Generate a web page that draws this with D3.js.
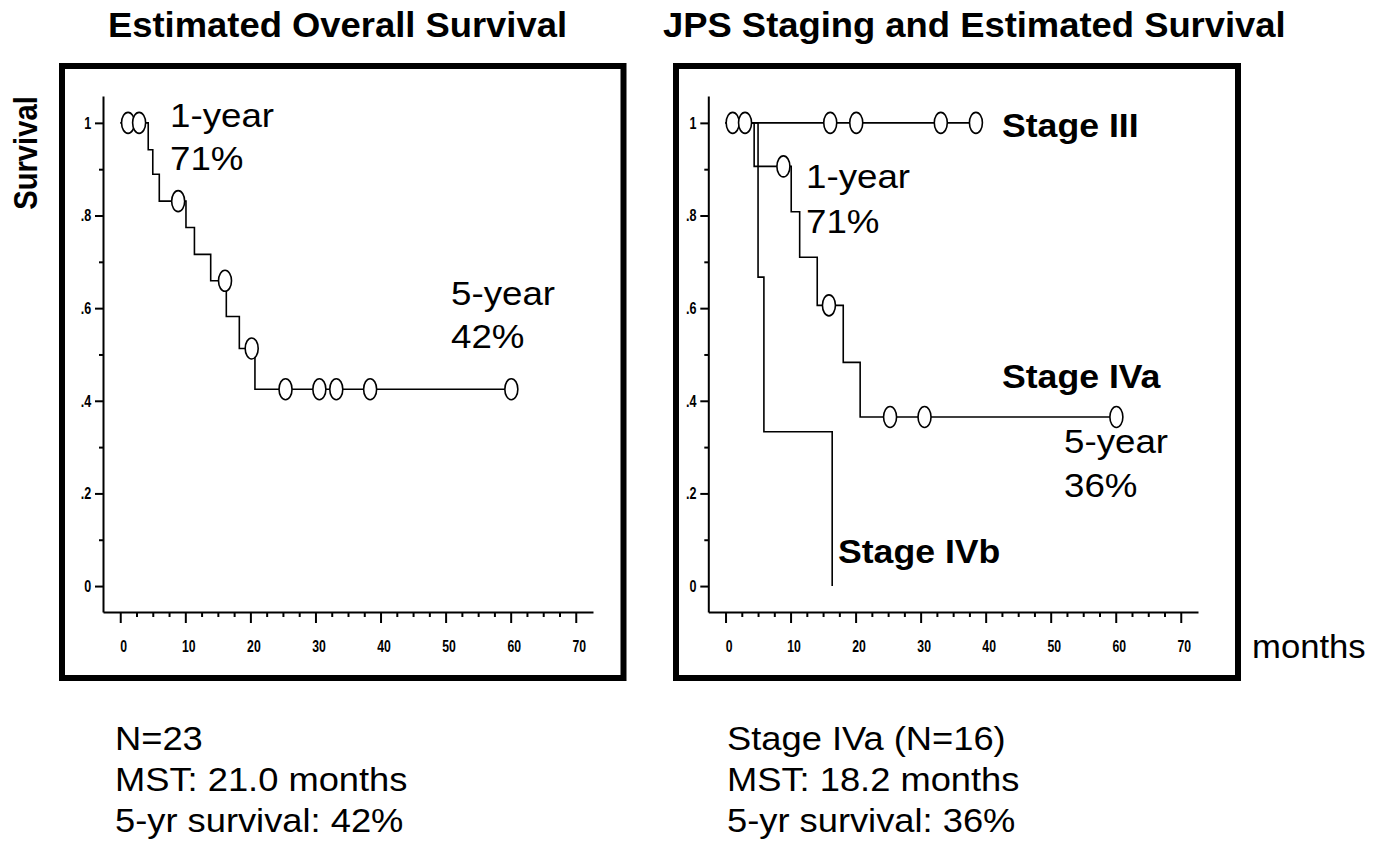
<!DOCTYPE html>
<html lang="en">
<head>
    <meta charset="UTF-8">
    <title>Estimated Survival</title>
    <script src="https://cdnjs.cloudflare.com/ajax/libs/d3/7.8.5/d3.min.js"></script>
    <style>
        body { margin: 0; padding: 0; background: #fff; }
        svg { display: block; font-family: "Liberation Sans", Arial, sans-serif; }
        .km { fill: none; stroke: #000; stroke-width: 1.6px; }
        .censor { fill: #fff; stroke: #000; stroke-width: 1.6px; }
        .axis path, .axis line { stroke: #000; stroke-width: 2px; }
        .axis text { font-size: 17px; font-weight: bold; fill: #000; font-family: "Liberation Sans", Arial, sans-serif; }
    </style>
</head>
<body>
<script>
    // ticks
    const xMajor = [0, 10, 20, 30, 40, 50, 60, 70];
    const xMinor = [2.5, 5, 7.5, 12.5, 15, 17.5, 22.5, 25, 27.5, 32.5, 35, 37.5, 42.5, 45, 47.5, 52.5, 55, 57.5, 62.5, 65, 67.5];
    const yMajor = [0, 0.2, 0.4, 0.6, 0.8, 1];
    const yMinor = [0.1, 0.3, 0.5, 0.7, 0.9];
    const yLabels = ["0", ".2", ".4", ".6", ".8", "1"];

    // overall survival (N=23): death times, survival after each death, censored times
    const overallDeaths = [4.3, 5.0, 6.0, 10.1, 11.4, 13.9, 16.3, 18.3, 20.7];
    const overallSurv = [0.942, 0.889, 0.831, 0.774, 0.716, 0.659, 0.582, 0.513, 0.425];
    const overallCensor = [1.2, 2.9, 8.9, 16.1, 20.2, 25.4, 30.6, 33.2, 38.4, 60.1];

    // JPS stages
    const stage3Deaths = [];
    const stage3Surv = [];
    const stage3Censor = [1.1, 3.0, 16.1, 20.1, 33.1, 38.5];

    const stage4aDeaths = [4.4, 10.1, 11.4, 14.1, 18.1, 20.7];
    const stage4aSurv = [0.906, 0.808, 0.71, 0.606, 0.483, 0.365];
    const stage4aCensor = [8.9, 15.9, 25.3, 30.6, 60.1];

    const stage4bDeaths = [5.0, 5.9, 16.4];
    const stage4bSurv = [0.667, 0.333, 0];
    const stage4bCensor = [];

    const width = 1386, height = 847;

    const svg = d3.select("body").append("svg")
        .attr("width", width)
        .attr("height", height);

    svg.append("rect").attr("width", width).attr("height", height).attr("fill", "#fff");

    function addText(x, y, str, size, bold, sx, anchor) {
        return svg.append("text")
            .attr("transform", `translate(${x},${y}) scale(${sx},1)`)
            .attr("font-size", size)
            .attr("font-weight", bold ? "bold" : "normal")
            .attr("text-anchor", anchor || "start")
            .text(str);
    }

    function survAt(deaths, surv, t) {
        let s = 1;
        deaths.forEach((d, i) => { if (d <= t) s = surv[i]; });
        return s;
    }

    function makePanel(frameX0, frameX1, axisX0, axisX1) {
        svg.append("rect")
            .attr("x", frameX0).attr("y", 66)
            .attr("width", frameX1 - frameX0).attr("height", 678 - 66)
            .attr("fill", "none").attr("stroke", "#000").attr("stroke-width", 6);

        const x = d3.scaleLinear().domain([-2.65, 72.65]).range([axisX0, axisX1]);
        const y = d3.scaleLinear().domain([-0.056, 1.058]).range([612, 96]);
        const g = svg.append("g");

        // minor ticks first
        g.append("g").attr("class", "axis").attr("transform", "translate(0,612)")
            .call(d3.axisBottom(x).tickValues(xMinor).tickSize(5).tickFormat(""))
            .select(".domain").remove();
        g.append("g").attr("class", "axis").attr("transform", `translate(${axisX0},0)`)
            .call(d3.axisLeft(y).tickValues(yMinor).tickSize(4).tickFormat(""))
            .select(".domain").remove();

        const xa = g.append("g").attr("class", "axis").attr("transform", "translate(0,612)")
            .call(d3.axisBottom(x).tickValues(xMajor).tickSize(11).tickSizeOuter(0).tickPadding(17));
        xa.selectAll("text").attr("transform", "translate(3,0) scale(0.72,1)");

        const ya = g.append("g").attr("class", "axis").attr("transform", `translate(${axisX0},0)`)
            .call(d3.axisLeft(y).tickValues(yMajor).tickSize(8).tickSizeOuter(0).tickPadding(8)
                .tickFormat((d, i) => yLabels[i]));
        ya.selectAll("text").attr("transform", "scale(0.74,1)");

        return { x, y, g };
    }

    function drawCurve(p, deaths, surv, censor) {
        const end = Math.max(d3.max(deaths) || 0, d3.max(censor) || 0);
        const pts = [[0, 1]];
        deaths.forEach((d, i) => pts.push([d, surv[i]]));
        pts.push([end, surv.length ? surv[surv.length - 1] : 1]);

        const line = d3.line()
            .x(d => p.x(d[0]))
            .y(d => p.y(d[1]))
            .curve(d3.curveStepAfter);

        p.g.append("path").attr("class", "km").attr("d", line(pts));

        p.g.selectAll(null)
            .data(censor)
            .enter().append("ellipse")
            .attr("class", "censor")
            .attr("cx", d => p.x(d))
            .attr("cy", d => p.y(survAt(deaths, surv, d)))
            .attr("rx", 6.5)
            .attr("ry", 10.5);
    }

    // left panel
    const left = makePanel(62, 623.5, 103, 593);
    drawCurve(left, overallDeaths, overallSurv, overallCensor);

    // right panel
    const right = makePanel(676, 1238, 708.3, 1198);
    drawCurve(right, stage4bDeaths, stage4bSurv, stage4bCensor);
    drawCurve(right, stage4aDeaths, stage4aSurv, stage4aCensor);
    drawCurve(right, stage3Deaths, stage3Surv, stage3Censor);

    // titles
    addText(108, 37, "Estimated Overall Survival", 35, true, 1.04);
    addText(663, 37, "JPS Staging and Estimated Survival", 35, true, 1.04);

    // y label
    svg.append("text")
        .attr("transform", "translate(37,153) rotate(-90) scale(0.86,1)")
        .attr("font-size", 34)
        .attr("font-weight", "bold")
        .attr("text-anchor", "middle")
        .text("Survival");

    addText(1252, 658, "months", 34, false, 1.02);

    // annotations, left
    addText(170, 127, "1-year", 34, false, 1.08);
    addText(170, 170, "71%", 34, false, 1.08);
    addText(451, 305, "5-year", 34, false, 1.08);
    addText(451, 348, "42%", 34, false, 1.08);

    // annotations, right
    addText(1002, 137, "Stage III", 33, true, 1.08);
    addText(806, 188, "1-year", 34, false, 1.08);
    addText(806, 233, "71%", 34, false, 1.08);
    addText(1002, 388, "Stage IVa", 33, true, 1.08);
    addText(1064, 453, "5-year", 34, false, 1.08);
    addText(1064, 497, "36%", 34, false, 1.08);
    addText(838, 563, "Stage IVb", 33, true, 1.08);

    // summaries
    addText(115, 750, "N=23", 33, false, 1.1);
    addText(115, 791, "MST: 21.0 months", 33, false, 1.1);
    addText(115, 832, "5-yr survival: 42%", 33, false, 1.1);
    addText(727, 750, "Stage IVa (N=16)", 33, false, 1.1);
    addText(727, 791, "MST: 18.2 months", 33, false, 1.1);
    addText(727, 832, "5-yr survival: 36%", 33, false, 1.1);
</script>
</body>
</html>
